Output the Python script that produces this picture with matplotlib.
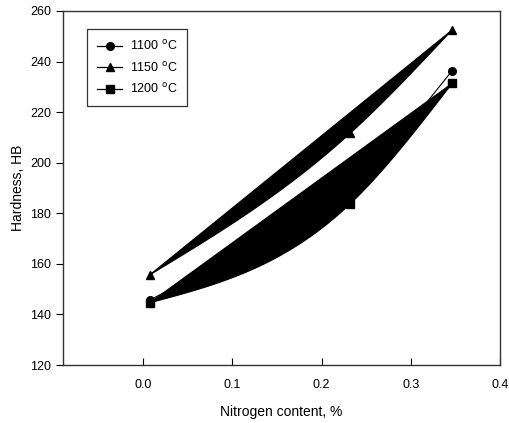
import numpy as np
import matplotlib
matplotlib.use("Agg")
import matplotlib.pyplot as plt

plt.rcParams['font.family'] = ['Liberation Sans', 'DejaVu Sans']

nitrogen = [0.007, 0.232, 0.3465]
hard_1100 = [145.7, 186.0, 236.4]
hard_1150 = [155.6, 211.6, 252.5]
hard_1200 = [144.6, 183.7, 231.4]
labels = ["1100 $^{\\rm o}$C", "1150 $^{\\rm o}$C", "1200 $^{\\rm o}$C"]
markers = ["o", "^", "s"]
filled = [False, True, True]
xticks = [0.0, 0.1, 0.2, 0.3, 0.4]
yticks = [120, 140, 160, 180, 200, 220, 240, 260]


def natural_spline(x, y, n=100):
    x = np.asarray(x, float)
    y = np.asarray(y, float)
    k = len(x)
    h = np.diff(x)
    A = np.zeros((k, k))
    b = np.zeros(k)
    A[0, 0] = 1.0
    A[-1, -1] = 1.0
    for i in range(1, k - 1):
        A[i, i - 1] = h[i - 1]
        A[i, i] = 2 * (h[i - 1] + h[i])
        A[i, i + 1] = h[i]
        b[i] = 6 * ((y[i + 1] - y[i]) / h[i] - (y[i] - y[i - 1]) / h[i - 1])
    M = np.linalg.solve(A, b)
    xs_all, ys_all = [], []
    for i in range(k - 1):
        t = np.linspace(0, 1, n)
        s = 1 - t
        lin = s * y[i] + t * y[i + 1]
        corr = -(h[i] ** 2 / 6) * (M[i] * (s - s ** 3) + M[i + 1] * (t - t ** 3))
        xs_all.append(x[i] + t * h[i])
        ys_all.append(lin + corr)
    return np.concatenate(xs_all), np.concatenate(ys_all)


fig = plt.figure(figsize=(5.09, 4.23), dpi=100)
ax = fig.add_axes([0.124, 0.137, 0.858, 0.837])

for ys, mk, lab, fl in zip([hard_1100, hard_1150, hard_1200], markers, labels, filled):
    x = np.array(nitrogen)
    y = np.array(ys)
    if fl:
        xs, ycurve = natural_spline(x, y)
        px = np.concatenate([xs, [x[0]]])
        py = np.concatenate([ycurve, [y[0]]])
        ax.fill(px, py, color='black', lw=0.8, zorder=2)
    else:
        ax.plot(x, y, color='black', lw=0.8, zorder=2)
    ax.plot(x, y, linestyle='none', marker=mk, color='black', markersize=5.5, zorder=3)
    ax.plot([], [], color='black', lw=0.9, marker=mk, markersize=5.5, label=lab)

ax.set_xlim(-0.09, 0.4)
ax.set_ylim(120, 260)
ax.set_xticks(xticks)
ax.set_xticklabels([f"{t:.1f}" for t in xticks])
ax.set_yticks(yticks)
ax.tick_params(axis='x', direction='in', length=5, labelsize=9, pad=10)
ax.tick_params(axis='y', direction='out', length=5, labelsize=9)
for s in ax.spines.values():
    s.set_linewidth(1.0)
    s.set_color('#333333')

ax.set_xlabel("Nitrogen content, %", fontsize=10, labelpad=10)
ax.set_ylabel("Hardness, HB", fontsize=10, labelpad=4)

leg = ax.legend(loc='upper left', bbox_to_anchor=(0.055, 0.949), borderaxespad=0,
                frameon=True, fancybox=False, edgecolor='black', fontsize=9,
                handlelength=2.0, handletextpad=0.6, borderpad=0.8, labelspacing=0.6)
leg.get_frame().set_linewidth(0.9)

fig.savefig("out.png", dpi=100)
